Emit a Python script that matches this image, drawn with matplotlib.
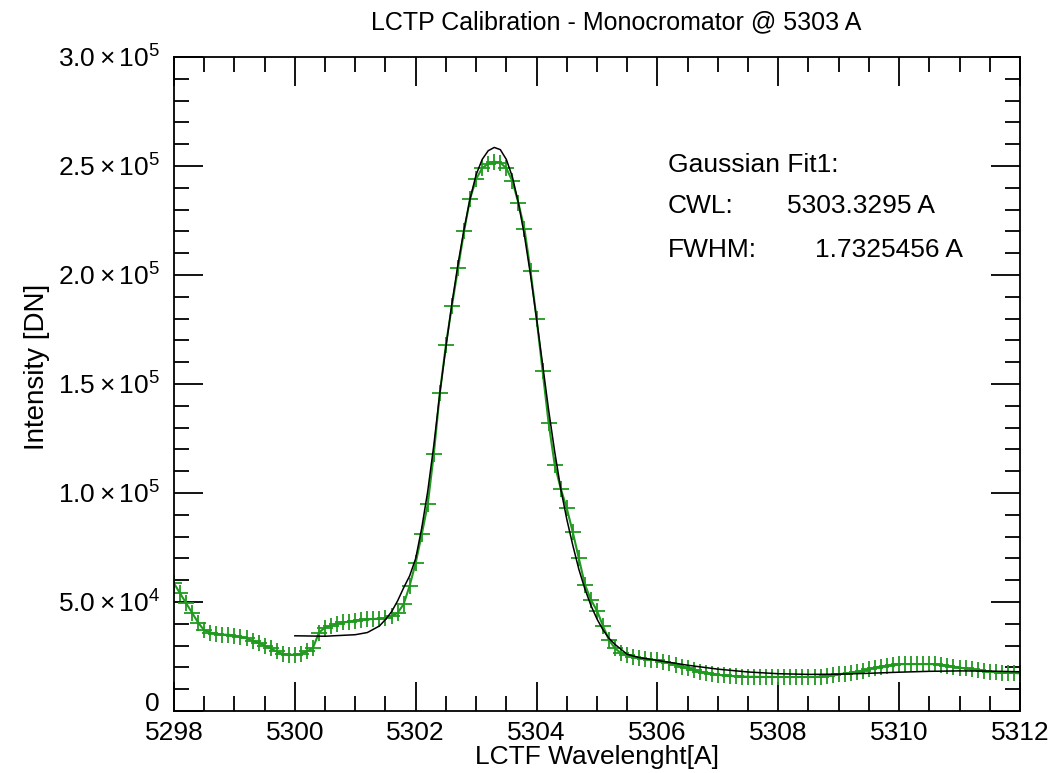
import numpy as np
import matplotlib
matplotlib.use("Agg")
import matplotlib.pyplot as plt
import matplotlib.transforms as mtransforms
from matplotlib.ticker import MultipleLocator, FixedLocator, FixedFormatter

plt.rcParams['font.family'] = ['Liberation Sans', 'DejaVu Sans']
plt.rcParams['mathtext.fontset'] = 'custom'
plt.rcParams['mathtext.rm'] = 'Liberation Sans'
plt.rcParams['mathtext.it'] = 'Liberation Sans:italic'

# measured data, wavelength step 0.1 A from 5298.0 to 5312.0 (values in 1e3 DN)
wl = np.round(np.arange(52980, 53121) / 10.0, 1)
intensity_k = [
    58.5, 54.0, 49.5, 45.0, 40.5, 37.0, 36.0, 35.5, 35.0, 35.0,
    34.5, 34.0, 33.3, 32.3, 31.2, 30.0, 28.7, 27.3, 26.2, 25.8,
    25.8, 26.3, 27.3, 29.0, 36.0, 38.3, 39.0, 40.0, 40.6, 41.0,
    41.5, 41.8, 42.0, 42.2, 42.4, 42.6, 43.5, 45.0, 49.0, 57.5,
    68.0, 81.0, 95.0, 118.0, 146.0, 168.0, 186.0, 203.0, 220.0, 235.0,
    244.0, 249.0, 251.0, 252.0, 251.5, 249.0, 243.0, 233.0, 221.0, 202.0,
    180.0, 156.0, 132.0, 113.0, 102.0, 93.0, 82.0, 70.0, 58.0, 51.0,
    46.0, 39.0, 32.5, 28.7, 26.5, 25.5, 24.8, 24.3, 24.0, 23.6,
    23.3, 22.7, 22.0, 21.2, 20.4, 19.6, 18.8, 18.0, 17.5, 17.0,
    16.6, 16.3, 16.1, 15.9, 15.8, 15.7, 15.7, 15.6, 15.6, 15.6,
    15.6, 15.6, 15.6, 15.6, 15.6, 15.6, 15.6, 15.8, 16.1, 16.5,
    16.9, 17.2, 17.5, 17.9, 18.5, 19.2, 19.9, 20.4, 20.8, 21.2,
    21.5, 21.5, 21.5, 21.5, 21.5, 21.5, 21.5, 21.2, 20.8, 20.3,
    19.9, 19.5, 19.1, 18.8, 18.4, 18.1, 17.8, 17.6, 17.5, 17.4,
    17.3,
]

# gaussian fit curve (values in 1e3 DN)
fit_wl = [5300.0, 5300.5, 5301.0, 5301.2, 5301.4, 5301.5, 5301.6, 5301.7, 5301.8, 5301.9,
          5302.0, 5302.1, 5302.2, 5302.3, 5302.4, 5302.5, 5302.6, 5302.7, 5302.8, 5302.9,
          5303.0, 5303.1, 5303.2, 5303.3, 5303.4, 5303.5, 5303.6, 5303.7, 5303.8, 5303.9,
          5304.0, 5304.1, 5304.2, 5304.3, 5304.4, 5304.5, 5304.6, 5304.7, 5304.8, 5304.9,
          5305.0, 5305.1, 5305.2, 5305.3, 5305.5, 5305.7, 5306.0, 5306.5, 5307.0, 5307.5,
          5308.0, 5308.5, 5309.0, 5309.5, 5310.0, 5310.5, 5311.0, 5311.5, 5312.0]
fit_k = [34.5, 34.3, 35.0, 36.0, 39.0, 42.0, 45.5, 50.5, 56.5, 62.0,
         70.0, 84.0, 101.0, 122.0, 146.0, 167.0, 187.0, 205.0, 221.0, 235.0,
         246.0, 253.0, 257.0, 258.5, 257.5, 253.0, 245.0, 233.0, 218.0, 200.0,
         180.0, 159.0, 138.0, 119.0, 102.0, 88.0, 76.0, 65.0, 56.0, 48.4,
         42.2, 37.2, 33.3, 30.5, 26.0, 24.5, 23.2, 21.0, 19.2, 17.9,
         17.1, 16.8, 16.9, 17.3, 17.8, 18.2, 18.4, 18.3, 18.0]

intensity = np.array(intensity_k) * 1e3
fit = np.array(fit_k) * 1e3

ytick_vals = [0, 5e4, 1e5, 1.5e5, 2e5, 2.5e5, 3e5]
ytick_labels = ['0', r'$5.0\times10^4$', r'$1.0\times10^5$', r'$1.5\times10^5$',
                r'$2.0\times10^5$', r'$2.5\times10^5$', r'$3.0\times10^5$']

fig = plt.figure(figsize=(10.63, 7.73), dpi=100)
ax = fig.add_axes([0.1637, 0.0802, 0.7958, 0.8461])

ax.plot(wl, intensity, color='#1f9a1f', lw=1.5, marker='+', ms=11, mew=1.3)
ax.plot(fit_wl, fit, color='black', lw=1.1)

ax.set_xlim(5298, 5312)
ax.set_ylim(0, 3e5)
ax.xaxis.set_major_locator(MultipleLocator(2))
ax.xaxis.set_minor_locator(MultipleLocator(0.5))
ax.yaxis.set_major_locator(FixedLocator(ytick_vals))
ax.yaxis.set_major_formatter(FixedFormatter(ytick_labels))
ax.yaxis.set_minor_locator(MultipleLocator(1e4))
ax.tick_params(which='both', direction='in', top=True, right=True, width=1.3, labelsize=19)
ax.tick_params(which='major', length=21)
ax.tick_params(which='minor', length=11)
ax.tick_params(axis='x', pad=7)
ax.tick_params(axis='y', pad=10)
for s in ax.spines.values():
    s.set_linewidth(1.3)

fig.text(0.5795, 0.9715, 'LCTP Calibration - Monocromator @ 5303 A', ha='center', va='center', fontsize=18)
fig.text(0.5616, 0.021, 'LCTF Wavelenght[A]', ha='center', va='center', fontsize=19)
fig.text(0.035, 0.525, 'Intensity [DN]', ha='center', va='center', rotation=90, fontsize=20)

ax.text(0.584, 0.835, 'Gaussian Fit1:', transform=ax.transAxes, va='center', fontsize=19)
ax.text(0.584, 0.772, 'CWL:', transform=ax.transAxes, va='center', fontsize=19)
ax.text(0.7246, 0.772, '5303.3295 A', transform=ax.transAxes, va='center', fontsize=19)
ax.text(0.584, 0.705, 'FWHM:', transform=ax.transAxes, va='center', fontsize=19)
ax.text(0.7577, 0.705, '1.7325456 A', transform=ax.transAxes, va='center', fontsize=19)

# lift the "0" label a little so it clears the x tick labels
fig.canvas.draw()
zero_lbl = ax.yaxis.get_major_ticks()[0].label1
zero_lbl.set_transform(zero_lbl.get_transform()
                       + mtransforms.ScaledTranslation(0, 7 / 72, fig.dpi_scale_trans))

fig.savefig('out.png', dpi=100)
